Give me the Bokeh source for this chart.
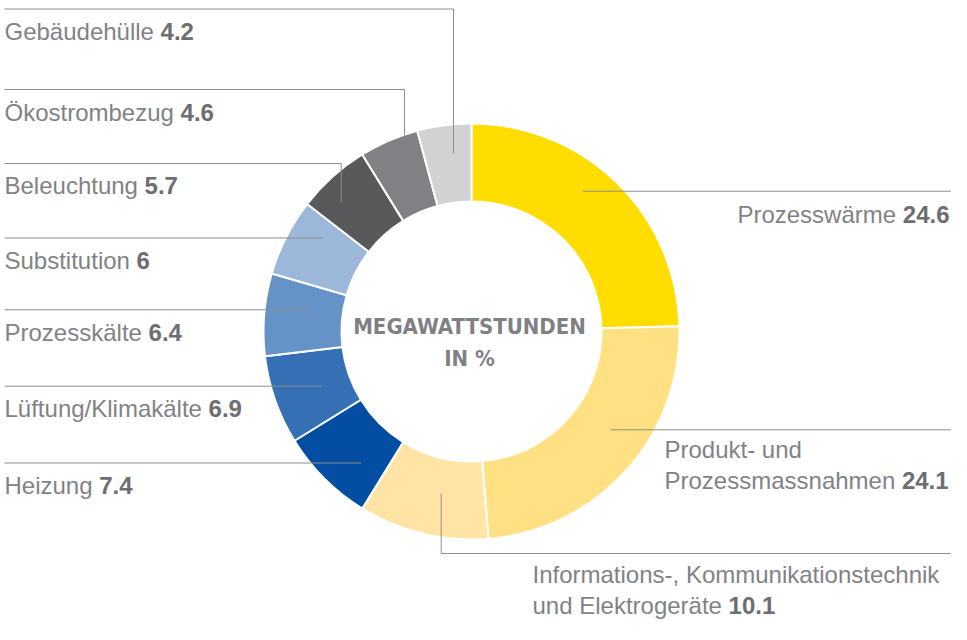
import math
from bokeh.plotting import figure
from bokeh.models import Range1d
from bokeh.core.properties import value
from bokeh.embed import file_html
from bokeh.resources import INLINE

# ---------------- data ----------------
categories = [
    "Prozesswärme",
    "Produkt- und\nProzessmassnahmen",
    "Informations-, Kommunikationstechnik\nund Elektrogeräte",
    "Heizung",
    "Lüftung/Klimakälte",
    "Prozesskälte",
    "Substitution",
    "Beleuchtung",
    "Ökostrombezug",
    "Gebäudehülle",
]
shares = [24.6, 24.1, 10.1, 7.4, 6.9, 6.4, 6, 5.7, 4.6, 4.2]
center_title = ["MEGAWATTSTUNDEN", "IN %"]

# ---------------- styles ----------------
colors = ["#FFDD00", "#FFE183", "#FFE4A6", "#034EA2", "#3670B4",
          "#6593C7", "#9BB8DB", "#58595B", "#808184", "#D1D2D4"]
NAME_COLOR = "#818285"
VALUE_COLOR = "#6d6e71"
LEADER_COLOR = "#8e8e8e"
FONT = "Liberation Sans"
FS = 24

# ---------------- layout (picture pixels, y from top) ----------------
PW, PH = 951, 624          # figure size
H = 640
CX, CY = 471, 331
R_OUT, R_IN = 208, 130
LINE_STEP = 30.5
BASE_FIX = -8              # renderer draws text ~8px below the requested baseline
RX = 949                   # right edge of right-hand labels
label_layout = [
    dict(x=RX, align="right", base=221.5, path=[(PW, 190.7), (582, 190.7)]),
    dict(x=664, align="left", base=457, path=[(PW, 429.3), (610, 429.3)]),
    dict(x=532, align="left", base=582, path=[(PW, 553), (440.7, 553), (440.7, 493)]),
    dict(x=4, align="left", base=493, path=[(4, 462.5), (360.7, 462.5)]),
    dict(x=4, align="left", base=416, path=[(4, 385.7), (320.7, 385.7)]),
    dict(x=4, align="left", base=340, path=[(4, 309.3), (306.5, 309.3)]),
    dict(x=4, align="left", base=268, path=[(4, 237.5), (323, 237.5)]),
    dict(x=4, align="left", base=193, path=[(4, 163), (340.7, 163), (340.7, 201.7)]),
    dict(x=4, align="left", base=120, path=[(4, 89), (404, 89), (404, 135)]),
    dict(x=4, align="left", base=38.5, path=[(4, 8.5), (453, 8.5), (453, 153)]),
]
center_layout = dict(x=469, bases=[334, 366], size="22px",
                     font="'Liberation Sans Narrow', 'DejaVu Sans Condensed', sans-serif")

# Arial / Liberation Sans advance widths (1/1000 em)
ADV = {" ": 278, ",": 278, "-": 333, ".": 278, "/": 278,
       "A": 667, "B": 667, "C": 722, "D": 722, "E": 667, "F": 611, "G": 778, "H": 722,
       "I": 278, "K": 667, "L": 556, "M": 833, "N": 722, "O": 778, "P": 667, "S": 667,
       "T": 611, "U": 722, "W": 944, "Ö": 778,
       "a": 556, "b": 556, "c": 500, "d": 556, "e": 556, "f": 278, "g": 556, "h": 556,
       "i": 222, "j": 222, "k": 500, "l": 222, "m": 833, "n": 556, "o": 556, "p": 556,
       "q": 556, "r": 333, "s": 500, "t": 278, "u": 556, "v": 500, "w": 722, "x": 500,
       "y": 500, "z": 500, "ä": 556, "ö": 556, "ü": 556}


def tw(s, size=FS):
    return sum(ADV.get(c, 556) for c in s) * size / 1000.0


def Y(y):
    return H - y


def YT(y):
    return H - (y + BASE_FIX)


p = figure(width=PW, height=PH, output_backend="svg",
           toolbar_location=None, x_axis_type=None, y_axis_type=None,
           x_range=Range1d(0, PW), y_range=Range1d(H - PH, H),
           min_border=0, outline_line_color=None, background_fill_color="white",
           border_fill_color="white")
p.grid.visible = False

# donut
total = sum(shares)
starts, ends = [], []
cum = 0.0
for v in shares:
    starts.append(math.pi / 2 - 2 * math.pi * cum / total)
    cum += v
    ends.append(math.pi / 2 - 2 * math.pi * cum / total)

p.annular_wedge(x=[CX] * len(shares), y=[Y(CY)] * len(shares),
                inner_radius=R_IN, outer_radius=R_OUT,
                start_angle=starts, end_angle=ends, direction="clock",
                fill_color=colors, line_color="white", line_width=2)

# leader lines
xs = [[pt[0] for pt in lay["path"]] for lay in label_layout]
ys = [[Y(pt[1]) for pt in lay["path"]] for lay in label_layout]
p.multi_line(xs=xs, ys=ys, line_color=LEADER_COLOR, line_width=1)

# labels
nx, ny, nt, na = [], [], [], []
vx, vy, vt, va = [], [], [], []
for name, v, lay in zip(categories, shares, label_layout):
    lines = name.split("\n")
    vs = f"{v:g}"
    for i, ln in enumerate(lines):
        base = YT(lay["base"] + i * LINE_STEP)
        last = i == len(lines) - 1
        if lay["align"] == "left":
            nx.append(lay["x"]); ny.append(base); nt.append(ln); na.append("left")
            if last:
                vx.append(lay["x"] + tw(ln + " ")); vy.append(base); vt.append(vs); va.append("left")
        else:
            if last:
                vx.append(lay["x"]); vy.append(base); vt.append(vs); va.append("right")
                nx.append(lay["x"] - tw(vs) - tw(" "))
            else:
                nx.append(lay["x"])
            ny.append(base); nt.append(ln); na.append("right")

p.text(x=nx, y=ny, text=nt, text_align=na, text_baseline="alphabetic",
       text_font=value(FONT), text_font_size=f"{FS}px", text_color=NAME_COLOR)
p.text(x=vx, y=vy, text=vt, text_align=va, text_baseline="alphabetic",
       text_font=value(FONT), text_font_size=f"{FS}px", text_font_style="bold",
       text_color=VALUE_COLOR)

# center title
p.text(x=[center_layout["x"]] * len(center_title),
       y=[YT(b) for b in center_layout["bases"]], text=center_title,
       text_align="center", text_baseline="alphabetic",
       text_font=value(center_layout["font"]), text_font_size=center_layout["size"],
       text_font_style="bold", text_color="#7f8083")

open("out.html", "w").write(file_html(p, INLINE))
